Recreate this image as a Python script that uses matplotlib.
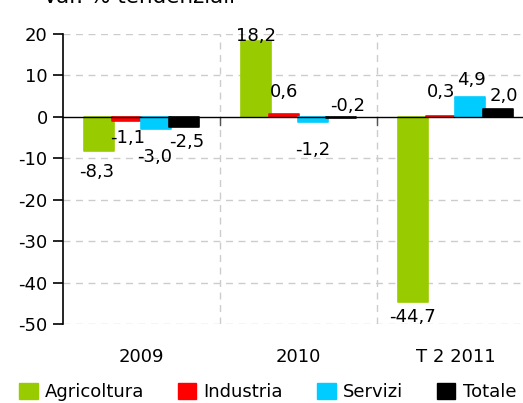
import numpy as np
import matplotlib
matplotlib.use("Agg")
import matplotlib.pyplot as plt
import matplotlib.transforms as mtransforms

plt.rcParams['font.family'] = ['DejaVu Sans']
plt.rcParams['axes.unicode_minus'] = False

categories = ['2009', '2010', 'T 2 2011']
series = ['Agricoltura', 'Industria', 'Servizi', 'Totale']
values = {
    'Agricoltura': [-8.3, 18.2, -44.7],
    'Industria': [-1.1, 0.6, 0.3],
    'Servizi': [-3.0, -1.2, 4.9],
    'Totale': [-2.5, -0.2, 2.0],
}
colors = ['#99CC00', '#FF0000', '#00CCFF', '#000000']
# label offsets (pixels, relative to bar end)
label_dy = {
    'Agricoltura': [-21, 5, -15],
    'Industria': [-17, 22, 24],
    'Servizi': [-28, -28, 17],
    'Totale': [-15, 12, 13],
}
label_dx = {
    'Agricoltura': [-2, 0, 0],
    'Industria': [0, 0, 0],
    'Servizi': [-1, 0, 2],
    'Totale': [3, 6, 6],
}

fig = plt.figure(figsize=(5.23, 4.03), dpi=100)
ax = fig.add_axes([63 / 523, 79 / 403, 1 - 63 / 523, 290 / 403])

x = np.arange(len(categories))
step = 0.1815
width = 0.19
for i, s in enumerate(series):
    xs = x + (i - 1.5) * step
    ax.bar(xs, values[s], width=width, color=colors[i], edgecolor=colors[i],
           linewidth=1.2, joinstyle='round', zorder=2)
    for j, v in enumerate(values[s]):
        txt = f"{v:.1f}".replace('.', ',')
        ax.annotate(txt, (xs[j], v), xytext=(label_dx[s][j], label_dy[s][j]),
                    textcoords='offset pixels', ha='center', va='center',
                    fontsize=13, zorder=5)

ax.set_ylim(-50, 20)
ax.set_xlim(-0.5, (523 - 141.5) / 157)
ax.set_yticks(np.arange(-50, 21, 10))
ax.set_yticklabels([str(v) for v in range(-50, 21, 10)])
ax.tick_params(axis='y', labelsize=13, length=7, width=1.2, pad=4, direction='out')

for yv in [-50, -40, -30, -20, -10, 10, 20]:
    ax.axhline(yv, color='#CCCCCC', lw=1, ls=(0, (5, 4)), zorder=0)
for xv in [0.5, 1.5]:
    ax.axvline(xv, color='#CCCCCC', lw=1, ls=(0, (5, 4)), zorder=0)
    ax.plot([xv, xv], [0, -2], color='#555555', lw=1, zorder=3)
ax.axhline(0, color='black', lw=1, zorder=3)

ax.set_xticks([])
for sp in ['top', 'right', 'bottom']:
    ax.spines[sp].set_visible(False)
ax.spines['left'].set_linewidth(1.2)

trans = mtransforms.blended_transform_factory(ax.transData, ax.transAxes)
for j, c in enumerate(categories):
    ax.text(j, -0.114, c, transform=trans, ha='center', va='center', fontsize=13)

# title is partly cut off at the top edge, as in the source image
fig.text(43 / 523, 400 / 403, 'Var. % tendenziali', fontsize=15.5, ha='left', va='baseline')

handles = [plt.Rectangle((0, 0), 1, 1, color=c) for c in colors]
fig.legend(handles, series, loc='center', bbox_to_anchor=(0.512, 11 / 403), ncol=4,
           frameon=False, fontsize=13, handlelength=1.0, handleheight=1.0,
           handletextpad=0.4, columnspacing=1.9, borderpad=0)

fig.savefig('out.png', dpi=100)
